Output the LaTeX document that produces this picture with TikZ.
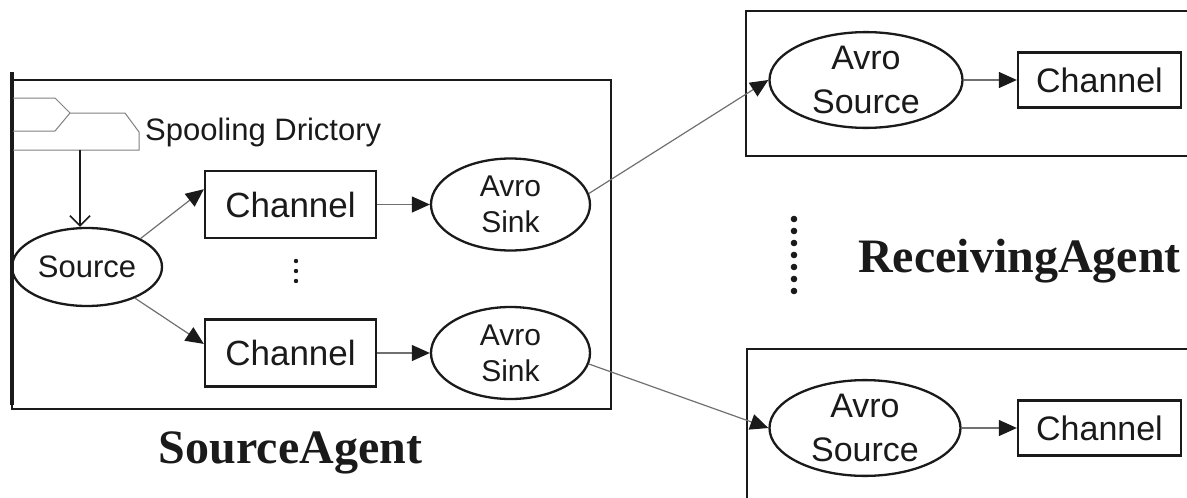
\documentclass[tikz,border=0pt]{standalone}
\usepackage{fontspec}
\setmainfont{Liberation Sans}
\newfontfamily\agentfont{Liberation Serif}
\usetikzlibrary{shapes.geometric,arrows.meta}
\definecolor{ink}{HTML}{1A1A1A}
\definecolor{wire}{HTML}{707070}
\tikzset{
  box/.style={draw=ink, line width=2.3pt, rectangle, inner sep=0pt, text=ink},
  oval/.style={draw=ink, line width=2.3pt, ellipse, inner sep=0pt, align=center, text=ink},
  conn/.style={draw=wire, line width=1.2pt, -{Triangle[length=18pt,width=16pt,color=ink]}},
  agent/.style={anchor=base, inner sep=0pt, text=ink, font=\agentfont\bfseries\fontsize{48}{52}\selectfont},
  frame/.style={draw=ink, line width=2.4pt},
  icon/.style={draw=black!50, line width=1pt},
  dotmark/.style={fill=ink, draw=none}
}
\begin{document}
\begin{tikzpicture}[x=1pt,y=-1pt]
\useasboundingbox (0,0) rectangle (1187,498);
\clip (0,0) rectangle (1187,498);
% frames
\draw[frame] (12,80) rectangle (611,409);
\draw[ink, line width=3.2pt] (12,72) -- (12,405);
\draw[frame] (746,11) rectangle (1200,156);
\draw[frame] (747,349) rectangle (1200,520);
% spooling directory icon
\draw[icon] (13,98) -- (55,98) -- (70,113) -- (125,113) -- (139,132) -- (139,150) -- (13,150);
\draw[icon] (70,113) -- (55,131) -- (13,131);
\node[anchor=west, inner sep=0pt, text=ink, font=\fontsize{31}{34}\selectfont] (spooltxt) at (145,132) {Spooling Drictory};
\coordinate (spool) at (80,150);
% nodes
\node[oval, minimum width=150pt, minimum height=78pt, font=\fontsize{31}{34}\selectfont] (src) at (87,267) {Source};
\node[box, minimum width=171pt, minimum height=67pt, font=\fontsize{35}{38}\selectfont] (ch1) at (290.5,204.5) {Channel};
\node[box, minimum width=171pt, minimum height=67pt, font=\fontsize{35}{38}\selectfont] (ch2) at (290.5,353) {Channel};
\node[oval, minimum width=159pt, minimum height=92pt, font=\fontsize{30}{36}\selectfont] (sk1) at (510.5,204.5) {Avro\\Sink};
\node[oval, minimum width=159pt, minimum height=92pt, font=\fontsize{30}{36}\selectfont] (sk2) at (510.5,353) {Avro\\Sink};
\node[oval, minimum width=193pt, minimum height=93pt, font=\fontsize{34}{44}\selectfont] (ras1) at (866,80) {Avro\\Source};
\node[oval, minimum width=191pt, minimum height=93pt, font=\fontsize{34}{44}\selectfont] (ras2) at (865,428) {Avro\\Source};
\node[box, minimum width=163pt, minimum height=55pt, font=\fontsize{34}{38}\selectfont] (rch1) at (1099.5,80) {Channel};
\node[box, minimum width=163pt, minimum height=55pt, font=\fontsize{34}{38}\selectfont] (rch2) at (1099.5,428) {Channel};
% dots
\foreach \yy in {261,271,281} \fill[dotmark] (296,\yy) circle (2.2pt);
\foreach \yy in {219,231,243,255,267,279,291} \fill[dotmark] (794,\yy) circle (3.3pt);
% labels
\node[agent] (sa) at (290.5,463) {SourceAgent};
\node[agent] (ra) at (1019.5,272) {ReceivingAgent};
% connectors
\draw[ink, line width=1.6pt, -{Straight Barb[length=10pt,width=20pt,line width=1.6pt]}] (spool) -- (spool |- src.north);
\draw[conn] (src.28) -- (ch1.170);
\draw[conn] (src.-33) -- (ch2.174);
\draw[conn] (ch1) -- (sk1);
\draw[conn] (ch2) -- (sk2);
\draw[conn] (sk1.8) -- (ras1.west);
\draw[conn] (sk2.-8) -- (ras2.west);
\draw[conn] (ras1) -- (rch1);
\draw[conn] (ras2) -- (rch2);
\end{tikzpicture}
\end{document}
